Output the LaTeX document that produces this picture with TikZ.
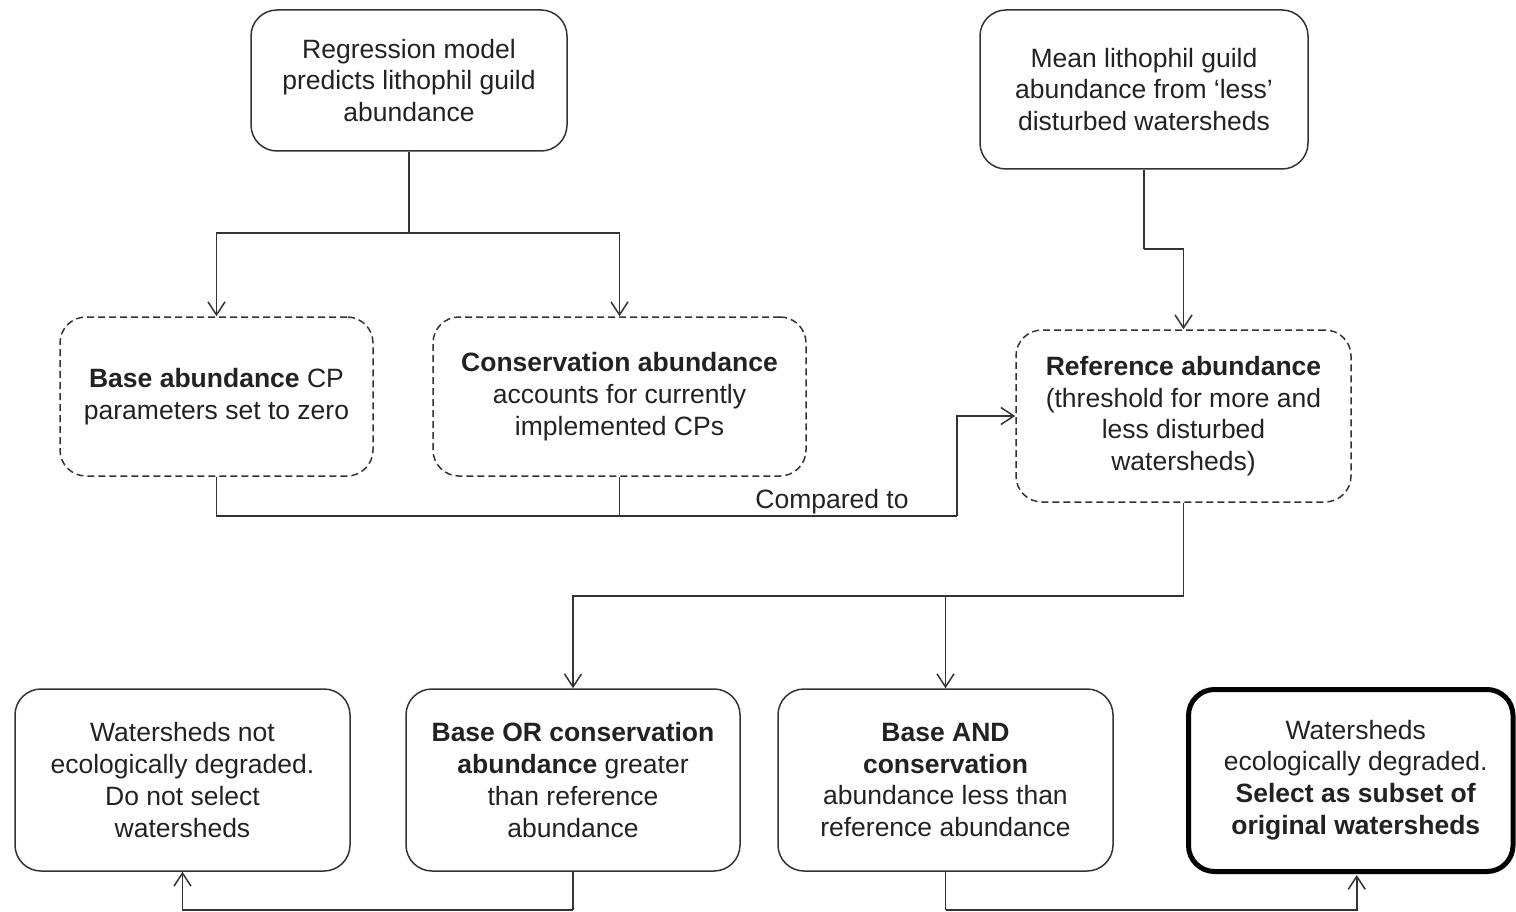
\documentclass[tikz,border=0pt]{standalone}
\usepackage{fontspec}
\setmainfont{Liberation Sans}
\usetikzlibrary{arrows.meta}
\definecolor{ink}{HTML}{222222}
\definecolor{edge}{HTML}{333333}
\tikzset{
  box/.style={draw=edge, line width=1.5pt, rounded corners=26pt, inner sep=0pt, align=center,
    text=ink, font=\fontsize{26.5}{31.7}\selectfont},
  dbox/.style={box, dash pattern=on 7pt off 4pt},
  tbox/.style={box, line width=5pt, draw=black},
  conn/.style={draw=edge, line width=1.5pt},
  arr/.style={conn, -{Straight Barb[length=13pt,width=17pt]}},
  lbl/.style={text=ink, font=\fontsize{26.5}{31.7}\selectfont, inner sep=0pt}
}
\begin{document}
\begin{tikzpicture}[x=1pt,y=-1pt]
\useasboundingbox (0,0) rectangle (1516,912);
% boxes
\node[box, minimum width=316, minimum height=141] (reg) at (409,80.5)
  {Regression model\\predicts lithophil guild\\abundance};
\node[box, minimum width=328, minimum height=159] (mean) at (1144,89.5)
  {Mean lithophil guild\\abundance from ‘less’\\disturbed watersheds};
\node[dbox, minimum width=313, minimum height=159] (base) at (216.5,396.5)
  {\textbf{Base abundance} CP\\parameters set to zero};
\node[dbox, minimum width=373, minimum height=159] (cons) at (619.5,396.5)
  {\textbf{Conservation abundance}\\accounts for currently\\implemented CPs};
\node[dbox, minimum width=335, minimum height=172] (ref) at (1183.5,416)
  {\textbf{Reference abundance}\\(threshold for more and\\less disturbed\\watersheds)};
\node[box, minimum width=335, minimum height=182] (not) at (182.5,780)
  {Watersheds not\\ecologically degraded.\\Do not select\\watersheds};
\node[box, minimum width=334, minimum height=182] (or) at (573,780)
  {\textbf{Base OR conservation}\\\textbf{abundance} greater\\than reference\\abundance};
\node[box, minimum width=335, minimum height=182] (and) at (945.5,780)
  {\textbf{Base AND}\\\textbf{conservation}\\abundance less than\\reference abundance};
\node[tbox, minimum width=324.5, minimum height=182] (sel) at (1350.75,780.5)
  {\hspace*{10pt}\raisebox{-3pt}{\begin{tabular}{@{}c@{}}Watersheds\\ecologically degraded.\\\textbf{Select as subset of}\\\textbf{original watersheds}\end{tabular}}};
% junctions
\coordinate (r1) at (409,233);
\coordinate (m1) at (1144,249);
\coordinate (j1) at (957,516);
\coordinate (r2) at (1183.5,596);
\coordinate (b1) at (573,910);
\coordinate (b2) at (945.5,910);
% connectors
\draw[conn] (reg.south) -- (r1);
\draw[arr] (r1) -| (base.north);
\draw[arr] (r1) -| (cons.north);
\draw[conn] (mean.south) -- (m1);
\draw[arr] (m1) -| (ref.north);
\draw[conn] (base.south) |- (j1);
\draw[conn] (cons.south) -- (cons.south |- j1);
\draw[arr] (j1) |- (ref.west);
\node[lbl, anchor=base] (cmp) at (832,508) {Compared to};
\draw[conn] (ref.south) -- (r2);
\draw[arr] (r2) -| (or.north);
\draw[arr] (r2) -| (and.north);
\draw[conn] (or.south) -- (b1);
\draw[arr] (b1) -| (not.south);
\draw[conn] (and.south) -- (b2);
\draw[arr] (b2) -| ([xshift=6pt,yshift=-1pt]sel.south);
\end{tikzpicture}
\end{document}
